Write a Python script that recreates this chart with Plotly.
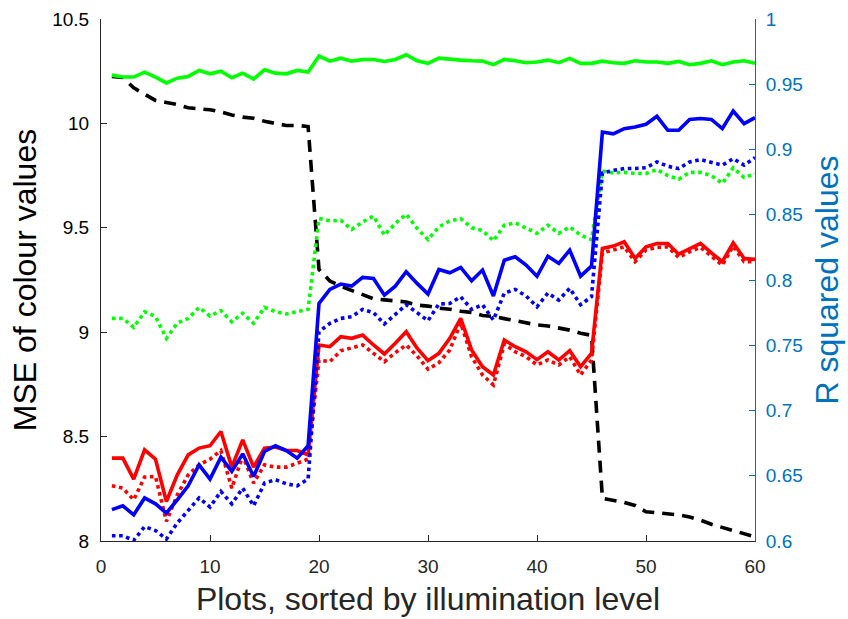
import plotly.graph_objects as go

x = list(range(1, 61))

mse_black = [10.225, 10.22, 10.17, 10.14, 10.11, 10.10, 10.09, 10.075, 10.07, 10.065,
             10.055, 10.04, 10.03, 10.025, 10.01, 10.0, 9.99, 9.99, 9.985, 9.30,
             9.245, 9.22, 9.20, 9.18, 9.16, 9.155, 9.15, 9.145, 9.13, 9.125,
             9.115, 9.11, 9.10, 9.095, 9.08, 9.075, 9.065, 9.055, 9.045, 9.035,
             9.03, 9.02, 9.01, 8.995, 8.985, 8.205, 8.195, 8.185, 8.17, 8.14,
             8.135, 8.13, 8.125, 8.115, 8.10, 8.08, 8.065, 8.05, 8.035, 8.02]

green_solid = [0.957, 0.9555, 0.9555, 0.9593, 0.9555, 0.951, 0.9547, 0.956, 0.9606, 0.958,
               0.960, 0.955, 0.9585, 0.954, 0.9611, 0.9585, 0.958, 0.9606, 0.9593, 0.9716,
               0.9677, 0.970, 0.9677, 0.969, 0.969, 0.9675, 0.969, 0.9726, 0.968, 0.966,
               0.970, 0.969, 0.9685, 0.968, 0.9677, 0.965, 0.969, 0.968, 0.9665, 0.967,
               0.9685, 0.9665, 0.9698, 0.966, 0.966, 0.9677, 0.9665, 0.966, 0.968, 0.967,
               0.967, 0.966, 0.9675, 0.965, 0.966, 0.968, 0.965, 0.967, 0.968, 0.966]

green_dotted = [0.7706, 0.7706, 0.7637, 0.7757, 0.772, 0.7553, 0.767, 0.7706, 0.779, 0.7724,
                0.7765, 0.768, 0.7745, 0.7668, 0.779, 0.7757, 0.774, 0.7757, 0.7775, 0.8471,
                0.8453, 0.8458, 0.8387, 0.8445, 0.849, 0.8344, 0.8433, 0.8504, 0.8395, 0.831,
                0.8407, 0.8453, 0.847, 0.840, 0.838, 0.830, 0.842, 0.8438, 0.840, 0.8357,
                0.842, 0.8357, 0.8407, 0.8344, 0.831, 0.8835, 0.882, 0.8825, 0.8816, 0.8816,
                0.8846, 0.880, 0.8772, 0.8825, 0.8825, 0.880, 0.874, 0.886, 0.8785, 0.8813]

blue_solid = [0.624, 0.627, 0.620, 0.633, 0.6285, 0.6214, 0.6316, 0.6423, 0.6584, 0.6474,
              0.6643, 0.6533, 0.6668, 0.6494, 0.6686, 0.673, 0.6693, 0.6635, 0.673, 0.782,
              0.7928, 0.7969, 0.7953, 0.802, 0.8012, 0.7884, 0.7953, 0.8063, 0.7974, 0.7892,
              0.8081, 0.8055, 0.8096, 0.7994, 0.8076, 0.7877, 0.8152, 0.8178, 0.8114, 0.8028,
              0.8182, 0.8127, 0.8229, 0.803, 0.8106, 0.9134, 0.912, 0.916, 0.9172, 0.9193,
              0.9254, 0.9147, 0.9147, 0.923, 0.9237, 0.923, 0.916, 0.9295, 0.9198, 0.9244]

blue_dotted = [0.604, 0.604, 0.6005, 0.611, 0.608, 0.6015, 0.6138, 0.6234, 0.633, 0.626,
               0.638, 0.6285, 0.6405, 0.627, 0.6444, 0.647, 0.6438, 0.6423, 0.6474, 0.7604,
               0.7668, 0.7706, 0.7718, 0.7775, 0.775, 0.7663, 0.774, 0.781, 0.775, 0.7688,
               0.7816, 0.782, 0.7872, 0.7775, 0.781, 0.7693, 0.790, 0.7928, 0.7877, 0.7795,
               0.790, 0.7846, 0.7936, 0.781, 0.7872, 0.882, 0.884, 0.8854, 0.8854, 0.886,
               0.8905, 0.8872, 0.8854, 0.8905, 0.8923, 0.8905, 0.888, 0.893, 0.888, 0.8938]

red_solid = [0.6635, 0.6635, 0.6474, 0.6699, 0.6627, 0.6303, 0.6507, 0.666, 0.6712, 0.673,
             0.6839, 0.6566, 0.6775, 0.6566, 0.6712, 0.672, 0.6693, 0.6693, 0.666, 0.7502,
             0.7489, 0.7566, 0.7553, 0.7578, 0.7502, 0.7433, 0.7515, 0.7604, 0.7477, 0.7382,
             0.7438, 0.7553, 0.7706, 0.7464, 0.7336, 0.7272, 0.754, 0.7489, 0.745, 0.739,
             0.745, 0.7387, 0.7458, 0.7336, 0.7438, 0.8242, 0.826, 0.8293, 0.8165, 0.8254,
             0.828, 0.828, 0.8198, 0.8242, 0.828, 0.8208, 0.814, 0.8285, 0.8165, 0.8158]

red_dotted = [0.6423, 0.6405, 0.6316, 0.649, 0.6494, 0.615, 0.6354, 0.6507, 0.6584, 0.6627,
              0.6693, 0.6405, 0.6653, 0.6444, 0.6584, 0.6566, 0.6566, 0.6597, 0.6627, 0.7387,
              0.7374, 0.7458, 0.7477, 0.7502, 0.7438, 0.7374, 0.7443, 0.7502, 0.7418, 0.7316,
              0.7366, 0.7464, 0.767, 0.7412, 0.7272, 0.7196, 0.751, 0.745, 0.7412, 0.7349,
              0.7387, 0.7349, 0.7412, 0.7272, 0.7387, 0.8208, 0.823, 0.8254, 0.814, 0.823,
              0.825, 0.8254, 0.8173, 0.8216, 0.825, 0.8178, 0.8114, 0.826, 0.814, 0.814]

FONT = "Liberation Sans, Arial, Helvetica, sans-serif"
DARK = "#262626"
RBLUE = "#0072BD"
LW = 3.6
TICK = 19
TITLE = 32

fig = go.Figure()
fig.add_trace(go.Scatter(x=x, y=mse_black, mode="lines", yaxis="y",
                         line=dict(color="black", width=LW, dash="12px,8px")))
right_series = [
    (green_solid, "#00FF00", "solid"),
    (green_dotted, "#00FF00", "dot"),
    (red_dotted, "#FF0000", "dot"),
    (red_solid, "#FF0000", "solid"),
    (blue_dotted, "#0000FF", "dot"),
    (blue_solid, "#0000FF", "solid"),
]
for ys, col, dash in right_series:
    fig.add_trace(go.Scatter(x=x, y=ys, mode="lines", yaxis="y2",
                             line=dict(color=col, width=LW, dash=dash)))

fig.update_layout(
    width=848, height=619,
    margin=dict(l=101, r=93, t=19, b=78, autoexpand=False),
    plot_bgcolor="white", paper_bgcolor="white",
    showlegend=False,
    font=dict(family=FONT, color=DARK),
    xaxis=dict(
        range=[0, 60], tickvals=[0, 10, 20, 30, 40, 50, 60],
        showgrid=False, zeroline=False,
        showline=True, linecolor=DARK, linewidth=1,
        ticks="inside", ticklen=6, tickcolor=DARK,
        tickfont=dict(size=TICK, color=DARK, family=FONT),
        ticklabelstandoff=8,
        title=dict(text="Plots, sorted by illumination level",
                   font=dict(size=TITLE, color=DARK, family=FONT), standoff=11),
        automargin=False,
    ),
    yaxis=dict(
        range=[8, 10.5], tickvals=[8, 8.5, 9, 9.5, 10, 10.5],
        showgrid=False, zeroline=False,
        showline=True, linecolor=DARK, linewidth=1,
        ticks="inside", ticklen=6, tickcolor=DARK,
        tickfont=dict(size=TICK, color="black", family=FONT),
        ticklabelstandoff=7,
        title=dict(text="MSE of colour values",
                   font=dict(size=TITLE, color="black", family=FONT), standoff=6),
        automargin=False,
    ),
    yaxis2=dict(
        range=[0.6, 1], tickvals=[0.6, 0.65, 0.7, 0.75, 0.8, 0.85, 0.9, 0.95, 1],
        ticktext=["0.6", "0.65", "0.7", "0.75", "0.8", "0.85", "0.9", "0.95", "1"],
        overlaying="y", side="right", anchor="x",
        showgrid=False, zeroline=False,
        showline=True, linecolor=RBLUE, linewidth=1,
        ticks="inside", ticklen=6, tickcolor=RBLUE,
        tickfont=dict(size=TICK, color=RBLUE, family=FONT),
        ticklabelstandoff=6,
        title=dict(text="R squared values",
                   font=dict(size=TITLE, color=RBLUE, family=FONT), standoff=13),
        automargin=False,
    ),
)

fig.write_html("out.html")
